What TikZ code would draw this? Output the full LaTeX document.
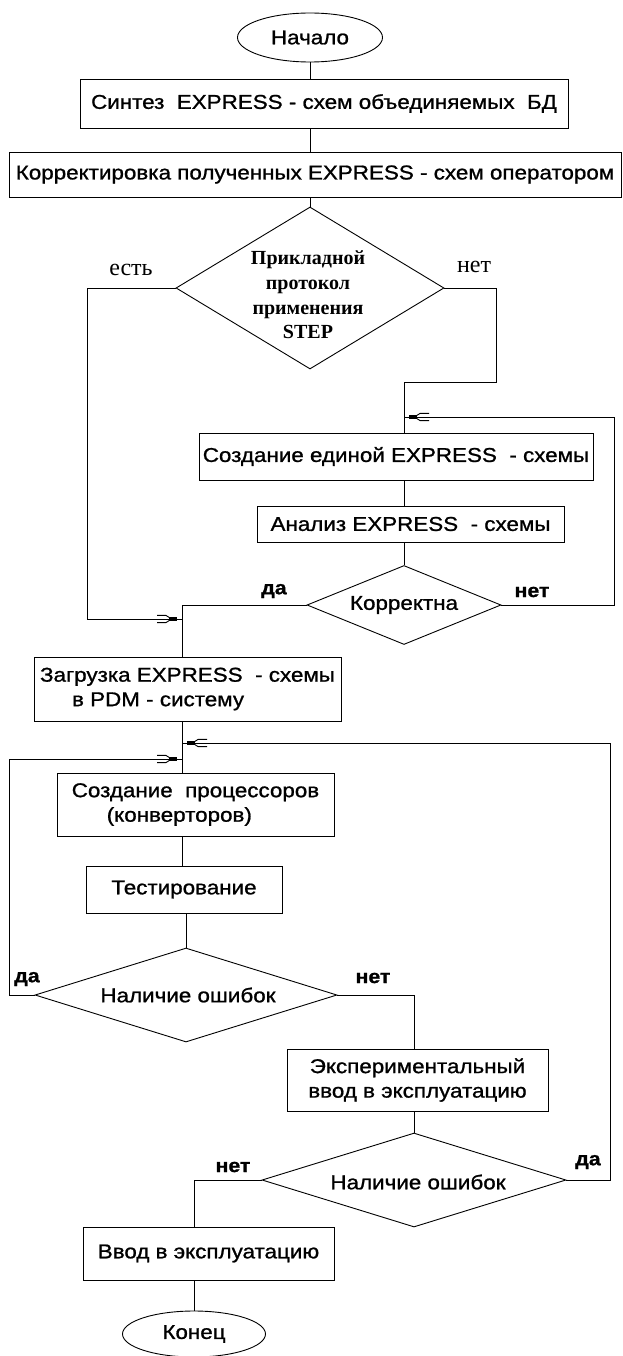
\documentclass[tikz,border=0pt]{standalone}
\usepackage{fontspec}
\setmainfont{Liberation Sans}[FakeStretch=1.12, FakeBold=1]
\newfontfamily\serifface{Liberation Serif}
\usetikzlibrary{shapes.geometric}

% Arrow tip: short solid bar at the tip followed by two thin parallel prongs
\pgfdeclarearrow{
  name = prong,
  setup code = {
    \pgfarrowssettipend{0pt}
    \pgfarrowssetbackend{-26pt}
    \pgfarrowssetlineend{0pt}
    \pgfarrowshullpoint{0pt}{2pt}
    \pgfarrowshullpoint{0pt}{-2pt}
    \pgfarrowshullpoint{-26pt}{4pt}
    \pgfarrowshullpoint{-26pt}{-4pt}
  },
  drawing code = {
    \pgfsetdash{}{0pt}
    \pgfpathrectangle{\pgfpoint{-13pt}{-1.6pt}}{\pgfpoint{8pt}{3.2pt}}
    \pgfusepathqfill
    \pgfsetlinewidth{0.9pt}
    \pgfpathmoveto{\pgfpoint{-12pt}{1pt}}
    \pgfpathlineto{\pgfpoint{-16pt}{3.6pt}}
    \pgfpathlineto{\pgfpoint{-25pt}{3.6pt}}
    \pgfpathmoveto{\pgfpoint{-12pt}{-1pt}}
    \pgfpathlineto{\pgfpoint{-16pt}{-3.6pt}}
    \pgfpathlineto{\pgfpoint{-25pt}{-3.6pt}}
    \pgfusepathqstroke
  }
}

\begin{document}
\begin{tikzpicture}[x=1pt, y=-1pt, line width=0.9pt,
  boxtext/.style={font=\fontsize{20}{24.5}\selectfont},
  box/.style={draw, rectangle, inner sep=0pt, boxtext},
  term/.style={draw, ellipse, inner sep=0pt, minimum width=145pt, minimum height=49pt, boxtext},
  decide/.style={draw, diamond, inner sep=0pt},
  dtext/.style={inner sep=0pt, boxtext},
  steptext/.style={inner sep=0pt, align=center, font=\serifface\bfseries\fontsize{20}{24.7}\selectfont},
  ylabel/.style={inner sep=0pt, font=\bfseries\fontsize{19}{19}\selectfont},
  slabel/.style={inner sep=0pt, font=\serifface\fontsize{24}{24}\selectfont}]

\fill[white] (0,0) rectangle (622,1356);
\useasboundingbox (0,0) rectangle (622,1356);

% ---- nodes ----
\node[term] (start) at (310,37.5) {Начало};
\node[box, minimum width=488pt, minimum height=49pt] (box1) at (324,103.5)
  {Синтез\ \ EXPRESS - схем объединяемых\ \ БД};
\node[box, minimum width=612pt, minimum height=45pt] (box2) at (315,174.5)
  {Корректировка полученных EXPRESS - схем оператором};

\node[decide, minimum width=268pt, minimum height=162pt] (d1) at (310,288) {};
\node[steptext] (d1t) at (308,295) {Прикладной\\протокол\\применения\\STEP};

\node[box, minimum width=394pt, minimum height=47pt] (box3) at (396,456.5)
  {Создание единой EXPRESS\ \ - схемы};
\node[box, minimum width=307pt, minimum height=36pt] (box4) at (410.5,524)
  {Анализ EXPRESS\ \ - схемы};

\node[decide, minimum width=194pt, minimum height=79pt] (d2) at (404,605) {};
\node[dtext] (d2t) at (d2.center) {Корректна};

\node[box, align=left, minimum width=307pt, minimum height=64pt] (box5) at (187.5,689)
  {Загрузка EXPRESS\ \ - схемы\\\hspace*{32pt}в PDM - систему};
\node[box, align=left, minimum width=277pt, minimum height=63pt] (box6) at (195.5,804.5)
  {Создание\ \ процессоров\\\hspace*{35pt}(конверторов)};
\node[box, minimum width=196pt, minimum height=47pt] (box7) at (184,889.5)
  {Тестирование};

\node[decide, minimum width=302pt, minimum height=94pt] (d3) at (186,995) {};
\node[dtext] (d3t) at (188,995) {Наличие ошибок};

\node[box, align=center, minimum width=261pt, minimum height=62pt] (box8) at (417.5,1080)
  {Экспериментальный\\ввод в эксплуатацию};

\node[decide, minimum width=304pt, minimum height=94pt] (d4) at (414,1180) {};
\node[dtext] (d4t) at (418,1182) {Наличие ошибок};

\node[box, minimum width=251pt, minimum height=53pt] (box9) at (208.5,1253.5)
  {Ввод в эксплуатацию};
\node[term, minimum width=143pt, minimum height=46pt] (end) at (194,1334) {Конец};

% ---- branch labels ----
\node[slabel] (l1yes) at (131,270) {есть};
\node[slabel] (l1no) at (474,267) {нет};
\node[ylabel] (l2yes) at (274,591) {да};
\node[ylabel] (l2no) at (532,592) {нет};
\node[ylabel] (l3yes) at (27,979) {да};
\node[ylabel] (l3no) at (373,978) {нет};
\node[ylabel] (l4yes) at (588,1162) {да};
\node[ylabel] (l4no) at (233,1167) {нет};

% ---- junctions and routing columns ----
\coordinate (jA) at (182,619);
\coordinate (jB) at (404,417);
\coordinate (jC) at (182,743);
\coordinate (jD) at (182,759);
\coordinate (colL1) at (87,0);
\coordinate (rowR1) at (496,382);
\coordinate (colR2) at (614,0);
\coordinate (colLL) at (9,0);
\coordinate (colRR) at (610,0);

% ---- connectors ----
\draw (start.south) -- (start.south |- box1.north);
\draw (box1.south -| start.south) -- (box2.north -| start.south);
\draw (box2.south -| d1.north) -- (d1.north);

\draw[-prong] (d1.west) -| (colL1 |- jA) -- (jA);
\draw (d1.east) -| (rowR1) -| (jB |- box3.north);

\draw (box3.south -| jB) -- (box4.north -| jB);
\draw (box4.south -| d2.north) -- (d2.north);

\draw[-prong] (d2.east) -| (colR2 |- jB) -- (jB);
\draw (d2.west) -| (jA |- box5.north);

\draw (box5.south -| jC) -- (box6.north -| jC);
\draw[-prong] (d4.east) -| (colRR |- jC) -- (jC);
\draw[-prong] (d3.west) -| (colLL |- jD) -- (jD);

\draw (box6.south -| jC) -- (box7.north -| jC);
\draw (box7.south -| d3.north) -- (d3.north);

\draw (d3.east) -| (d4.north |- box8.north);
\draw (box8.south -| d4.north) -- (d4.north);

\draw (d4.west) -| (end.north |- box9.north);
\draw (box9.south -| end.north) -- (end.north);
\end{tikzpicture}
\end{document}
